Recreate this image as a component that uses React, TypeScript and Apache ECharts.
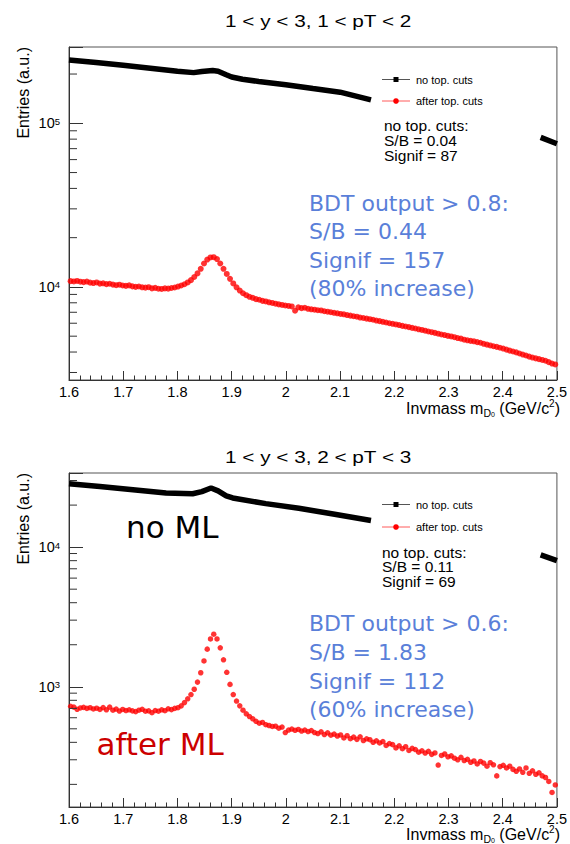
import React, { useEffect, useRef } from 'react';
import * as echarts from 'echarts';

// ---------- binning (histogram bins of the invariant mass) ----------
const BIN_LOW = 1.6;
const BIN_WIDTH = 0.006;
const N_BINS = 150;
const binCenters: number[] = Array.from({ length: N_BINS }, (_, i) =>
  Math.round((BIN_LOW + (i + 0.5) * BIN_WIDTH) * 1000) / 1000
);

// ---------- panel 1: 1 < y < 3, 1 < pT < 2 ----------
const redTop: number[] = [
  10850, 10800, 10880, 10760, 10700, 10780, 10620, 10560, 10650, 10480,
  10520, 10400, 10460, 10330, 10250, 10320, 10200, 10150, 10220, 10080,
  10010, 10060, 9950, 9900, 9960, 9800, 9870, 9750, 9720, 9800,
  9760, 9850, 9920, 10050, 10200, 10380, 10650, 11000, 11500, 12100,
  12900, 13900, 14700, 15150, 15200, 14800, 13900, 12900, 12000, 11200,
  10500, 9950, 9500, 9150, 8900, 8700, 8580, 8420, 8350, 8220,
  8150, 8050, 7980, 7900, 7820, 7760, 7700, 7650, 7600, 7150,
  7500, 7420, 7460, 7350, 7300, 7260, 7200, 7180, 7100, 7060,
  7000, 6950, 6900, 6840, 6800, 6730, 6680, 6620, 6580, 6500,
  6460, 6400, 6350, 6300, 6230, 6180, 6120, 6060, 6000, 5950,
  5900, 5850, 5780, 5730, 5680, 5620, 5570, 5510, 5460, 5400,
  5340, 5290, 5240, 5180, 5120, 5080, 5020, 4980, 4930, 4870,
  4830, 4760, 4720, 4680, 4650, 4600, 4560, 4490, 4440, 4390,
  4340, 4300, 4250, 4200, 4140, 4080, 4030, 3980, 3920, 3860,
  3810, 3750, 3700, 3660, 3620, 3580, 3540, 3470, 3400, 3360,
];
// black curve (no cuts); null = hidden behind the legend box
const blackTopMass: number[] = [1.6, 1.65, 1.7, 1.75, 1.8, 1.83, 1.845, 1.865, 1.875, 1.89, 1.9, 1.92, 1.95, 2.0, 2.05, 2.1, 2.157, 2.31, 2.47, 2.5];
const blackTopVals: (number | null)[] = [244000, 235000, 226000, 217000, 208000, 204000, 207000, 210000, 208000, 198000, 192000, 186000, 180000, 172000, 163000, 155000, 139000, null, 82000, 75000];

// ---------- panel 2: 1 < y < 3, 2 < pT < 3 ----------
const redBot: number[] = [
  725, 715, 690, 705, 712, 700, 708, 694, 702, 688,
  710, 684, 715, 680, 692, 670, 688, 676, 684, 672,
  664, 680, 690, 668, 672, 652, 676, 668, 684, 674,
  695, 686, 700, 708, 730, 770, 820, 880, 960, 1080,
  1260, 1530, 1860, 2200, 2380, 2200, 1900, 1560, 1270, 1040,
  880, 790, 730, 680, 640, 612, 590, 566, 548, 555,
  535, 528, 520, 522, 505, 515, 470, 490, 498, 488,
  495, 482, 490, 478, 486, 470, 462, 476, 455, 468,
  450, 458, 444, 452, 430, 446, 425, 436, 420, 438,
  412, 424, 418, 400, 410, 396, 405, 380, 392, 385,
  365, 378, 360, 372, 350, 362, 355, 340, 348, 335,
  345, 328, 336, 275, 322, 330, 315, 320, 308, 300,
  312, 296, 302, 288, 294, 280, 292, 284, 270, 286,
  276, 230, 268, 274, 262, 270, 256, 248, 258, 244,
  262, 240, 250, 236, 242, 230, 224, 210, 175, 198,
];
const blackBotMass: number[] = [1.6, 1.657, 1.718, 1.779, 1.828, 1.845, 1.862, 1.875, 1.89, 1.902, 1.963, 2.024, 2.09, 2.157, 2.31, 2.47, 2.5];
const blackBotVals: (number | null)[] = [28400, 27200, 25800, 24400, 24100, 25000, 26500, 25300, 23300, 22500, 20500, 19000, 17200, 15500, null, 8800, 8000];

// ---------- axes ----------
const X_MIN = 1.6;
const X_MAX = 2.5;
const X_STEP = 0.1;
const yRangeTop: [number, number] = [2699, 292600];
const yRangeBot: [number, number] = [137.7, 33960];
const minorTicksTop: number[] = [3000, 4000, 5000, 6000, 7000, 8000, 9000, 20000, 30000, 40000, 50000, 60000, 70000, 80000, 90000, 200000];
const minorTicksBot: number[] = [200, 300, 400, 500, 600, 700, 800, 900, 2000, 3000, 4000, 5000, 6000, 7000, 8000, 9000, 20000, 30000];

// ---------- texts ----------
const titles = ['1 < y < 3, 1 < pT < 2', '1 < y < 3, 2 < pT < 3'];
const legendLabels = ['no top. cuts', 'after top. cuts'];
const infoTop = ['no top. cuts:', 'S/B = 0.04', 'Signif = 87'];
const infoBot = ['no top. cuts:', 'S/B = 0.11', 'Signif = 69'];
const blueTop = ['BDT output > 0.8:', 'S/B = 0.44', 'Signif = 157', '(80% increase)'];
const blueBot = ['BDT output > 0.6:', 'S/B = 1.83', 'Signif = 112', '(60% increase)'];

const FONT = '"Liberation Sans", Arial, Helvetica, sans-serif';
const DEJAVU = '"DejaVu Sans", Verdana, sans-serif';
const BLUE = '#5a7fd9';
const AXIS = '#333';

function pairs(xs: number[], ys: (number | null)[]) {
  return xs.map((x, i) => [x, ys[i] == null ? '-' : ys[i]]);
}

function xAxisCfg(gridIndex: number) {
  return {
    type: 'value',
    gridIndex,
    min: X_MIN,
    max: X_MAX,
    interval: X_STEP,
    axisLine: { show: true, onZero: false, lineStyle: { color: AXIS, width: 1 } },
    axisTick: { show: true, inside: true, length: 9, lineStyle: { color: AXIS } },
    minorTick: { show: true, splitNumber: 5, length: 4.5, lineStyle: { color: AXIS } },
    axisLabel: {
      color: '#000',
      fontFamily: FONT,
      fontSize: 14.5,
      margin: 4,
      formatter: (v: number) => String(+v.toFixed(1)),
    },
    splitLine: { show: false },
    minorSplitLine: { show: false },
  };
}

function yAxisCfg(gridIndex: number, range: [number, number]) {
  return {
    type: 'log',
    logBase: 10,
    gridIndex,
    min: range[0],
    max: range[1],
    axisLine: { show: true, onZero: false, lineStyle: { color: AXIS, width: 1 } },
    axisTick: { show: true, inside: true, length: 14, lineStyle: { color: AXIS } },
    axisLabel: {
      margin: 9,
      formatter: (v: number) => {
        const e = Math.log10(v);
        if (Math.abs(e - Math.round(e)) > 1e-6) return '';
        return `{b|10}{s|${Math.round(e)}}`;
      },
      rich: {
        b: { fontSize: 14.5, fontFamily: FONT, color: '#000', lineHeight: 14 },
        s: { fontSize: 9.5, fontFamily: FONT, color: '#000', lineHeight: 9, verticalAlign: 'top' },
      },
    },
    splitLine: { show: false },
  };
}

function minorTickSeries(idx: number, ticks: number[]) {
  return {
    type: 'custom',
    xAxisIndex: idx,
    yAxisIndex: idx,
    silent: true,
    clip: false,
    z: 6,
    data: ticks.map((v) => [X_MIN, v]),
    renderItem: (_p: any, api: any) => {
      const p = api.coord([api.value(0), api.value(1)]);
      return {
        type: 'line',
        shape: { x1: p[0], y1: p[1], x2: p[0] + 8, y2: p[1] },
        style: { stroke: AXIS, lineWidth: 1 },
      };
    },
  };
}

function txt(x: number, y: number, text: string, fontSize: number, fill: string, family = FONT, extra: any = {}) {
  return {
    type: 'text',
    x,
    y,
    z: 100,
    silent: true,
    ...extra,
    style: {
      text,
      fontSize,
      fontFamily: family,
      fill,
      align: 'left',
      verticalAlign: 'middle',
      ...(extra.style || {}),
    },
  };
}

function panelGraphics(p: {
  gridTop: number;
  titleY: number;
  title: string;
  legendY: [number, number];
  info: string[];
  infoX: number;
  infoY: number[];
  blue: string[];
  blueY: number[];
  xNameY: number;
}) {
  const els: any[] = [];
  // title
  els.push(txt(225, p.titleY, p.title, 17, '#000', FONT, { scaleX: 1.22 }));
  // y axis title
  els.push({
    type: 'text',
    x: 23.5,
    y: p.gridTop,
    rotation: Math.PI / 2,
    z: 100,
    silent: true,
    style: {
      text: 'Entries (a.u.)',
      fontSize: 16,
      fontFamily: FONT,
      fill: '#000',
      align: 'right',
      verticalAlign: 'middle',
    },
  });
  // x axis title
  els.push({
    type: 'text',
    x: 560,
    y: p.xNameY,
    z: 100,
    silent: true,
    style: {
      text: 'Invmass m{sub|D}{subsup|0} (GeV/c{sup|2})',
      fontSize: 16,
      fontFamily: FONT,
      fill: '#000',
      lineHeight: 20,
      align: 'right',
      verticalAlign: 'middle',
      rich: {
        sub: { fontSize: 10.5, fontFamily: FONT, fill: '#000', lineHeight: 8, verticalAlign: 'bottom' },
        subsup: { fontSize: 7, fontFamily: FONT, fill: '#000', lineHeight: 16, verticalAlign: 'bottom' },
        sup: { fontSize: 10, fontFamily: FONT, fill: '#000', lineHeight: 10, verticalAlign: 'top' },
      },
    },
  });
  // legend
  const [ly0, ly1] = p.legendY;
  els.push({ type: 'line', z: 100, silent: true, shape: { x1: 382, y1: ly0, x2: 410, y2: ly0 }, style: { stroke: '#555', lineWidth: 1 } });
  els.push({ type: 'rect', z: 101, silent: true, shape: { x: 393.5, y: ly0 - 2.5, width: 5, height: 5 }, style: { fill: '#000' } });
  els.push(txt(416, ly0, legendLabels[0], 11, '#000'));
  els.push({ type: 'line', z: 100, silent: true, shape: { x1: 382, y1: ly1, x2: 410, y2: ly1 }, style: { stroke: '#ff5a5a', lineWidth: 1 } });
  els.push({ type: 'circle', z: 101, silent: true, shape: { cx: 396, cy: ly1, r: 2.8 }, style: { fill: '#ff0000' } });
  els.push(txt(416, ly1, legendLabels[1], 11, '#000'));
  // info box
  p.info.forEach((t, i) => els.push(txt(p.infoX, p.infoY[i], t, 15.5, '#000')));
  // blue annotation
  p.blue.forEach((t, i) => els.push(txt(309, p.blueY[i], t, 22, BLUE, DEJAVU)));
  return els;
}

export default function App() {
  const ref = useRef<HTMLDivElement>(null);

  useEffect(() => {
    if (!ref.current) return;
    const chart = echarts.init(ref.current, undefined, { renderer: 'svg' });

    const graphics = [
      ...panelGraphics({
        gridTop: 47,
        titleY: 21,
        title: titles[0],
        legendY: [79.5, 101],
        info: infoTop,
        infoX: 384,
        infoY: [125, 140, 155],
        blue: blueTop,
        blueY: [203, 231.7, 260, 288.3],
        xNameY: 408,
      }),
      ...panelGraphics({
        gridTop: 473,
        titleY: 456.7,
        title: titles[1],
        legendY: [504.5, 527],
        info: infoBot,
        infoX: 382,
        infoY: [552, 566.5, 581],
        blue: blueBot,
        blueY: [623, 652, 681, 709.5],
        xNameY: 834,
      }),
      txt(126, 527, 'no ML', 31, '#000', DEJAVU),
      txt(96.5, 744, 'after ML', 31, '#cc0000', DEJAVU),
    ];

    chart.setOption({
      animation: false,
      backgroundColor: '#fff',
      grid: [
        { left: 69, top: 47, width: 490, height: 333, show: true, borderColor: '#555', borderWidth: 1, backgroundColor: 'transparent' },
        { left: 69, top: 473, width: 490, height: 334, show: true, borderColor: '#555', borderWidth: 1, backgroundColor: 'transparent' },
      ],
      xAxis: [xAxisCfg(0), xAxisCfg(1)],
      yAxis: [yAxisCfg(0, yRangeTop), yAxisCfg(1, yRangeBot)],
      series: [
        {
          type: 'line',
          xAxisIndex: 0,
          yAxisIndex: 0,
          data: pairs(blackTopMass, blackTopVals),
          symbol: 'none',
          connectNulls: false,
          lineStyle: { color: '#000', width: 5.5, cap: 'butt' },
          z: 3,
        },
        {
          type: 'scatter',
          xAxisIndex: 0,
          yAxisIndex: 0,
          data: binCenters.map((m, i) => [m, redTop[i]]),
          symbol: 'circle',
          symbolSize: 6,
          itemStyle: { color: '#ff0000' },
          z: 4,
        },
        minorTickSeries(0, minorTicksTop),
        {
          type: 'line',
          xAxisIndex: 1,
          yAxisIndex: 1,
          data: pairs(blackBotMass, blackBotVals),
          symbol: 'none',
          connectNulls: false,
          lineStyle: { color: '#000', width: 5.5, cap: 'butt' },
          z: 3,
        },
        {
          type: 'scatter',
          xAxisIndex: 1,
          yAxisIndex: 1,
          data: binCenters.map((m, i) => [m, redBot[i]]),
          symbol: 'circle',
          symbolSize: 5.5,
          itemStyle: { color: '#ff0000' },
          z: 4,
        },
        minorTickSeries(1, minorTicksBot),
      ],
      graphic: graphics,
    });

    return () => chart.dispose();
  }, []);

  return (
    <div
      ref={ref}
      style={{ position: 'absolute', left: 0, top: 0, width: 570, height: 844, background: '#fff' }}
    />
  );
}
